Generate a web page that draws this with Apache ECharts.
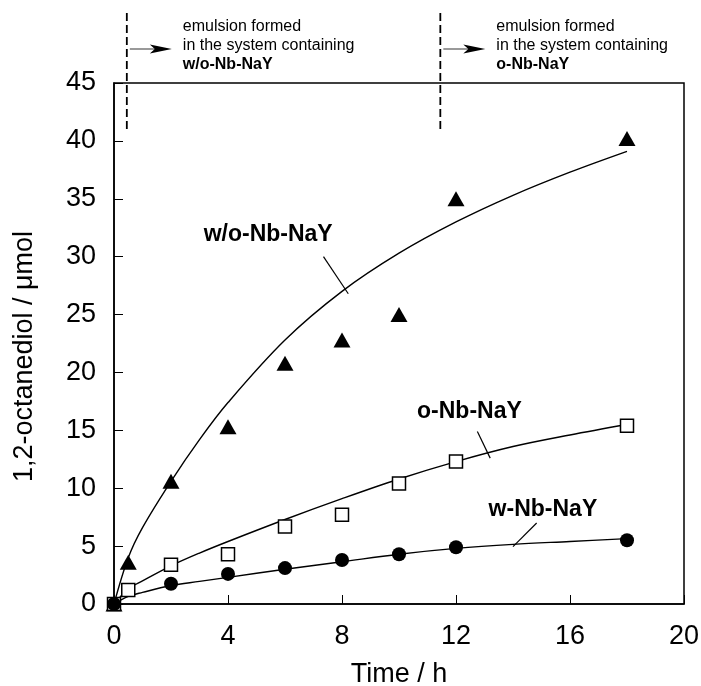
<!DOCTYPE html>
<html lang="en">
	<head>
		<meta charset="UTF-8" />
		<title>1,2-octanediol vs time</title>
		<script src="https://cdn.jsdelivr.net/npm/echarts@6/dist/echarts.min.js"></script>
		<style>
			html, body { margin: 0; padding: 0; background: #fff; }
		</style>
	</head>
	<body>
		<div id="main" style="width: 701px; height: 686px"></div>
		<script type="text/javascript">
			// measured points (time in h, amount in umol)
			const timeH = [0, 0.5, 2, 4, 6, 8, 10, 12, 18];
			const woNbNaY = [0, 3.6, 10.6, 15.3, 20.8, 22.8, 25.0, 35.0, 40.2];
			const oNbNaY = [0, 1.2, 3.4, 4.3, 6.7, 7.7, 10.4, 12.3, 15.4];
			const wTime = [0, 2, 4, 6, 8, 10, 12, 18];
			const wNbNaY = [0, 1.75, 2.6, 3.1, 3.8, 4.3, 4.9, 5.5];

			// fitted curves
			const fitTime = [0, 0.5, 1, 2, 3, 4, 6, 8, 10, 12, 14, 16, 18];
			const woFit = [0, 4.0, 6.6, 10.6, 14.2, 17.4, 22.8, 27.0, 30.3, 33.0, 35.3, 37.3, 39.1];
			const oFit = [0, 1.3, 2.0, 3.3, 4.4, 5.4, 7.3, 9.1, 10.8, 12.3, 13.6, 14.6, 15.5];
			const wFit = [0, 0.65, 1.0, 1.6, 1.95, 2.3, 3.0, 3.65, 4.3, 4.8, 5.15, 5.4, 5.65];

			// axis ranges
			const xRange = [0, 20, 4];
			const yRange = [0, 45, 5];

			const font = "'Liberation Sans', Arial, sans-serif";
			const pairs = (xs, ys) => xs.map((x, i) => [x, ys[i]]);

			const fitLine = (name, ys, leader) => ({
				name: name,
				type: "line",
				data: pairs(fitTime, ys),
				smooth: 0.35,
				showSymbol: false,
				lineStyle: { color: "#000", width: 1.4 },
				z: 2,
				markLine: {
					silent: true,
					symbol: "none",
					label: { show: false },
					lineStyle: { color: "#000", width: 1.2, type: "solid" },
					data: [[{ coord: leader[0] }, { coord: leader[1] }]],
				},
			});

			let myChart = echarts.init(document.getElementById("main"));

			let options = {
				animation: false,
				backgroundColor: "#fff",
				grid: {
					left: 114,
					right: 17,
					top: 83,
					bottom: 82,
					outerBoundsMode: "none",
					containLabel: false,
					show: true,
					borderColor: "#000",
					borderWidth: 1.5,
				},
				xAxis: {
					type: "value",
					min: xRange[0],
					max: xRange[1],
					interval: xRange[2],
					name: "Time / h",
					nameLocation: "middle",
					nameGap: 57,
					nameTextStyle: { fontFamily: font, fontSize: 27, color: "#000" },
					axisLine: { lineStyle: { color: "#000", width: 1.5 } },
					axisTick: { inside: true, length: 9, lineStyle: { color: "#000", width: 1 } },
					axisLabel: { fontFamily: font, fontSize: 27, color: "#000", margin: 19 },
					splitLine: { show: false },
				},
				yAxis: {
					type: "value",
					min: yRange[0],
					max: yRange[1],
					interval: yRange[2],
					name: "1,2-octanediol / \u03bcmol",
					nameLocation: "middle",
					nameGap: 76,
					nameTextStyle: { fontFamily: font, fontSize: 27, color: "#000", padding: [0, 26, 0, 0] },
					axisLine: { lineStyle: { color: "#000", width: 1.5 } },
					axisTick: { inside: true, length: 9, lineStyle: { color: "#000", width: 1 } },
					axisLabel: { fontFamily: font, fontSize: 27, color: "#000", margin: 18 },
					splitLine: { show: false },
				},
				series: [
					fitLine("w/o fit", woFit, [[7.35, 30.0], [8.22, 26.8]]),
					fitLine("o fit", oFit, [[12.75, 14.9], [13.2, 12.6]]),
					fitLine("w fit", wFit, [[14.83, 7.0], [14.0, 4.96]]),
					{
						name: "w/o-Nb-NaY",
						type: "scatter",
						data: pairs(timeH, woNbNaY),
						symbol: "triangle",
						symbolSize: [17, 15],
						itemStyle: { color: "#000", opacity: 1 },
						z: 3,
					},
					{
						name: "o-Nb-NaY",
						type: "scatter",
						data: pairs(timeH, oNbNaY),
						symbol: "rect",
						symbolSize: 13,
						itemStyle: { color: "#fff", borderColor: "#000", borderWidth: 1.5, opacity: 1 },
						z: 4,
					},
					{
						name: "w-Nb-NaY",
						type: "scatter",
						data: pairs(wTime, wNbNaY),
						symbol: "circle",
						symbolSize: 14,
						itemStyle: { color: "#000", opacity: 1 },
						z: 5,
					},
				],
			};
			myChart.setOption(options);

			// annotations placed through the axes
			const px = (x, y) => myChart.convertToPixel({ gridIndex: 0 }, [x, y]);
			const graphics = [];

			const seriesLabel = (text, x, y) => {
				const p = px(x, y);
				graphics.push({
					type: "text",
					x: p[0],
					y: p[1],
					style: {
						text: text,
						fontFamily: font,
						fontSize: 23,
						fontWeight: "bold",
						fill: "#000",
						align: "center",
						verticalAlign: "middle",
					},
					z: 10,
				});
			};
			seriesLabel("w/o-Nb-NaY", 5.41, 31.9);
			seriesLabel("o-Nb-NaY", 12.47, 16.6);
			seriesLabel("w-Nb-NaY", 15.05, 8.15);

			// emulsion markers above the plot
			const emulsion = (t, sample) => {
				const bottom = px(t, 40.9);
				const x = bottom[0];
				graphics.push({
					type: "line",
					shape: { x1: x, y1: 13, x2: x, y2: bottom[1] },
					style: { stroke: "#000", lineWidth: 1.8, lineDash: [8, 4] },
					z: 10,
				});
				graphics.push({
					type: "line",
					shape: { x1: x + 3, y1: 49, x2: x + 30, y2: 49 },
					style: { stroke: "#555", lineWidth: 1.2 },
					z: 10,
				});
				graphics.push({
					type: "polygon",
					shape: {
						points: [
							[x + 45, 49],
							[x + 23, 44.5],
							[x + 28, 49],
							[x + 23, 53.5],
						],
					},
					style: { fill: "#000" },
					z: 10,
				});
				graphics.push({
					type: "text",
					x: x + 56,
					y: 36.5,
					style: {
						text: "emulsion formed\nin the system containing",
						fontFamily: font,
						fontSize: 16,
						lineHeight: 19,
						fill: "#000",
						align: "left",
						verticalAlign: "middle",
					},
					z: 10,
				});
				graphics.push({
					type: "text",
					x: x + 56,
					y: 65,
					style: {
						text: sample,
						fontFamily: font,
						fontSize: 16,
						fontWeight: "bold",
						fill: "#000",
						align: "left",
						verticalAlign: "middle",
					},
					z: 10,
				});
			};
			emulsion(0.45, "w/o-Nb-NaY");
			emulsion(11.45, "o-Nb-NaY");

			myChart.setOption({ graphic: graphics });
		</script>
	</body>
</html>
